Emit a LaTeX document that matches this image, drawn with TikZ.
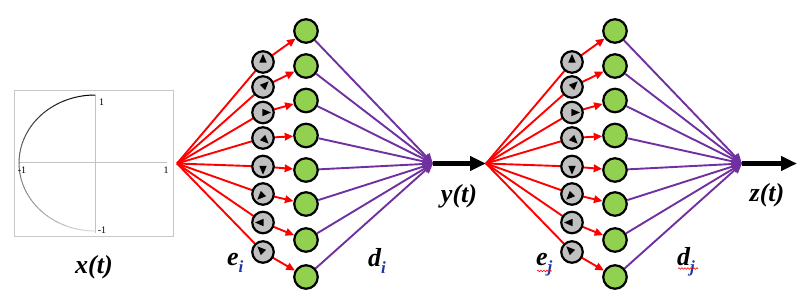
\documentclass[tikz,border=0pt]{standalone}
\usepackage{fontspec}
\setmainfont{Liberation Serif}
\usetikzlibrary{arrows.meta,decorations.pathmorphing}
\pgfdeclarelayer{bg}
\pgfsetlayers{bg,main}
\definecolor{redl}{RGB}{255,0,0}
\definecolor{purp}{RGB}{112,48,160}
\definecolor{grn}{RGB}{146,208,80}
\definecolor{gry}{RGB}{192,192,192}
\definecolor{subblue}{RGB}{25,55,165}
\definecolor{framec}{RGB}{200,200,200}
\definecolor{axisc}{RGB}{195,195,195}
\newcommand\subtxt[1]{\raisebox{-7pt}{\fontsize{17}{17}\selectfont\color{subblue}#1}}
\begin{document}
\begin{tikzpicture}[x=1pt,y=-1pt,
  phase/.style={circle,draw=black,line width=2.2pt,fill=gry,minimum size=21.5pt,inner sep=0pt},
  amp/.style={circle,draw=black,line width=2.2pt,fill=grn,minimum size=23.5pt,inner sep=0pt},
  redline/.style={draw=redl,line width=1.9pt,-{Triangle[length=8.5pt,width=7.5pt]}},
  purpline/.style={draw=purp,line width=1.9pt,-{Triangle[length=10pt,width=9pt]}},
  bigarrow/.style={draw=black,line width=5pt,-{Triangle[length=16pt,width=14pt]}},
  lbl/.style={font=\fontsize{26}{30}\selectfont\bfseries\itshape,inner sep=0pt,anchor=base},
  tick/.style={font=\fontsize{10}{10}\selectfont,inner sep=0pt},
  squig/.style={draw=redl,line width=0.6pt,decorate,decoration={snake,amplitude=0.8pt,segment length=3pt}}
]
\useasboundingbox (0,0) rectangle (800,306);

% plot x(t)
\draw[framec,line width=0.8pt] (14,90) rectangle (173,236);
\draw[axisc,line width=0.8pt] (19,162.5) -- (167,162.5);
\draw[axisc,line width=0.8pt] (95,95) -- (95,233);
\foreach \a in {90,93,...,267}{
  \pgfmathsetmacro\pc{100-88*(\a-90)/180}
  \draw[black!\pc,line width=1pt,line cap=round]
    ({95+76*cos(\a)},{163-68*sin(\a)}) -- ({95+76*cos(\a+3)},{163-68*sin(\a+3)});
}
\node[tick] (t1) at (101.5,102.5) {1};
\node[tick] (t2) at (166,170.5) {1};
\node[tick] (t3) at (22,170.5) {-1};
\node[tick] (t4) at (102,230.5) {-1};

% two networks
\foreach \s/\m in {0/a,309/b}{
\begin{scope}[xshift=\s]
  \coordinate (o\m) at (177,163.5);
  \coordinate (c\m) at (433,163.5);
  \foreach \k/\gy/\ny/\ang in {1/62/31/-90,2/87/66/-45,3/112.5/100.5/0,4/138/135.5/45,5/166.5/170/90,6/194/204/135,7/222.5/240/180,8/252/277/-135}{
    \node[amp] (n\m\k) at (306,\ny) {};
    \node[phase] (g\m\k) at (263,\gy) {};
    \fill[black] (g\m\k.center) +(\ang:8) -- +(\ang+100:3.8) -- +(\ang-100:3.8) -- cycle;
    \begin{pgfonlayer}{bg}
      \draw[redline] (o\m) -- (g\m\k.center) -- (n\m\k);
      \draw[purpline] (n\m\k) -- (c\m);
    \end{pgfonlayer}
  }
\end{scope}
}
\coordinate (zend) at (797,163.5);
\draw[bigarrow] (ca) -- (ob);
\draw[bigarrow] (cb) -- (zend);

% labels
\node[lbl] (xt) at (94,273) {x(t)};
\node[lbl] (yt) at (459,202) {y(t)};
\node[lbl] (zt) at (767,201) {z(t)};
\node[lbl,anchor=base west] (ei) at (227,265) {e\subtxt{i}};
\node[lbl,anchor=base west] (di) at (368,266) {d\subtxt{i}};
\node[lbl,anchor=base west] (ej) at (536,265) {e\subtxt{j}};
\node[lbl,anchor=base west] (dj) at (677,265) {d\subtxt{j}};
\draw[squig] (537,271) -- (552,271);
\draw[squig] (678,268.5) -- (698,268.5);
\end{tikzpicture}
\end{document}
